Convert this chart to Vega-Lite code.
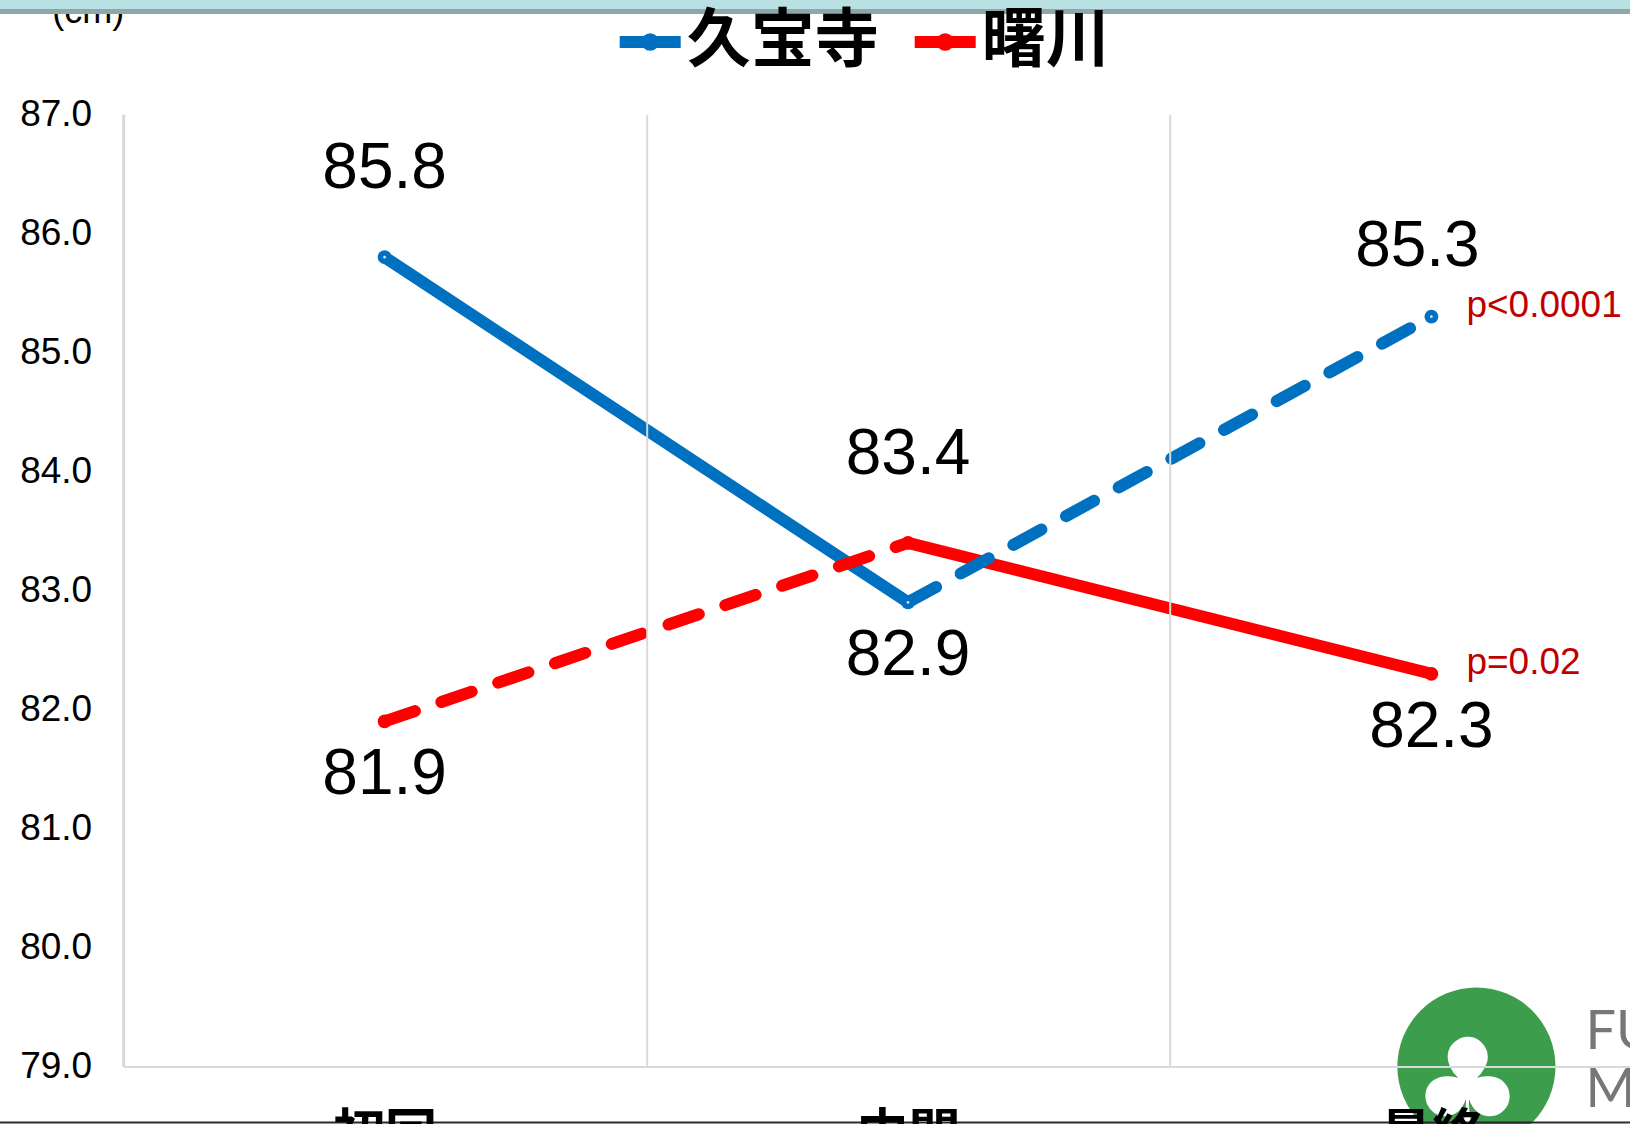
{
  "$schema": "https://vega.github.io/schema/vega-lite/v6.json",
  "autosize": {"type": "none"},
  "width": 1506.3,
  "height": 952.3,
  "padding": {"left": 123.7, "top": 114.3, "right": 0, "bottom": 57.4},
  "background": "white",
  "config": {"view": {"stroke": null}, "font": "Liberation Sans"},
  "datasets": {
    "waist": [
      {"地区": "久宝寺", "時期": "初回", "腹囲": 85.8},
      {"地区": "久宝寺", "時期": "中間", "腹囲": 82.9},
      {"地区": "久宝寺", "時期": "最終", "腹囲": 85.3, "p": "p<0.0001"},
      {"地区": "曙川", "時期": "初回", "腹囲": 81.9},
      {"地区": "曙川", "時期": "中間", "腹囲": 83.4},
      {"地区": "曙川", "時期": "最終", "腹囲": 82.3, "p": "p=0.02"}
    ],
    "one": [{}]
  },
  "layer": [
    {
      "data": {"name": "waist"},
      "transform": [{"filter": "(datum['地区'] === '久宝寺' && datum['時期'] !== '最終') || (datum['地区'] === '曙川' && datum['時期'] !== '初回')"}],
      "mark": {"type": "line", "strokeWidth": 12, "strokeCap": "round", "strokeJoin": "round"},
      "encoding": {
        "x": {
          "field": "時期", "type": "nominal",
          "scale": {"type": "point", "domain": ["初回", "中間", "最終"], "padding": 0.43895, "align": 0.5678},
          "axis": {
            "title": null, "grid": true, "gridColor": "#d9d9d9", "gridWidth": 2,
            "tickOffset": -261.7, "labelOffset": 261.7, "ticks": false,
            "domainColor": "#d9d9d9", "domainWidth": 2,
            "labelFont": "Noto Sans CJK JP", "labelFontSize": 52, "labelFontWeight": "bold",
            "labelColor": "black", "labelPadding": 44, "labelAngle": 0, "zindex": 1
          }
        },
        "y": {
          "field": "腹囲", "type": "quantitative",
          "scale": {"domain": [79, 87], "nice": false, "zero": false},
          "axis": {
            "title": "(cm)", "titleAngle": 0, "titleAlign": "left", "titleBaseline": "alphabetic",
            "titleX": -72, "titleY": -92, "titleFont": "Liberation Sans", "titleFontSize": 36,
            "titleFontWeight": "normal", "titleColor": "black",
            "values": [79, 80, 81, 82, 83, 84, 85, 86, 87], "format": ".1f",
            "grid": false, "ticks": false, "domainColor": "#d9d9d9", "domainWidth": 2,
            "labelFont": "Liberation Sans", "labelFontSize": 37, "labelColor": "black", "labelPadding": 32
          }
        },
        "color": {
          "field": "地区", "type": "nominal",
          "scale": {"domain": ["久宝寺", "曙川"], "range": ["#0070c0", "#ff0000"]},
          "legend": {
            "title": null, "orient": "none", "legendX": 490, "legendY": -109, "direction": "horizontal",
            "symbolType": "M-1,0L1,0M0.09,0A0.09,0.09,0,1,1,-0.09,0A0.09,0.09,0,1,1,0.09,0",
            "symbolSize": 3721, "symbolStrokeWidth": 12,
            "labelFont": "Noto Sans CJK JP", "labelFontSize": 64, "labelFontWeight": "bold",
            "labelColor": "black", "labelOffset": 0, "labelLimit": 0, "columnPadding": 12, "padding": 0
          }
        }
      }
    },
    {
      "data": {"name": "waist"},
      "transform": [{"filter": "(datum['地区'] === '久宝寺' && datum['時期'] !== '初回') || (datum['地区'] === '曙川' && datum['時期'] !== '最終')"}],
      "mark": {"type": "line", "strokeWidth": 12, "strokeCap": "round", "strokeDash": [32, 28]},
      "encoding": {
        "x": {"field": "時期", "type": "nominal"},
        "y": {"field": "腹囲", "type": "quantitative"},
        "color": {"field": "地区", "type": "nominal", "legend": null}
      }
    },
    {
      "data": {"name": "waist"},
      "mark": {"type": "point", "shape": "circle", "filled": true, "size": 190, "opacity": 1},
      "encoding": {
        "x": {"field": "時期", "type": "nominal"},
        "y": {"field": "腹囲", "type": "quantitative"},
        "color": {"field": "地区", "type": "nominal", "legend": null}
      }
    },
    {
      "data": {"name": "waist"},
      "transform": [{"filter": "datum['地区'] === '久宝寺'"}],
      "mark": {"type": "point", "shape": "circle", "filled": true, "size": 7, "opacity": 1, "color": "#d6e6f5"},
      "encoding": {
        "x": {"field": "時期", "type": "nominal"},
        "y": {"field": "腹囲", "type": "quantitative"}
      }
    },
    {
      "data": {"name": "waist"},
      "transform": [{"filter": "(datum['地区'] === '久宝寺' && datum['時期'] === '初回') || (datum['地区'] === '曙川' && datum['時期'] === '中間')"}],
      "mark": {"type": "text", "fontSize": 64, "font": "Liberation Sans", "color": "black", "baseline": "middle", "align": "center", "dy": -88},
      "encoding": {
        "x": {"field": "時期", "type": "nominal"},
        "y": {"field": "腹囲", "type": "quantitative"},
        "text": {"field": "腹囲", "type": "quantitative", "format": ".1f"}
      }
    },
    {
      "data": {"name": "waist"},
      "transform": [{"filter": "datum['地区'] === '久宝寺' && datum['時期'] === '最終'"}],
      "mark": {"type": "text", "fontSize": 64, "font": "Liberation Sans", "color": "black", "baseline": "middle", "align": "center", "dy": -70, "dx": -14},
      "encoding": {
        "x": {"field": "時期", "type": "nominal"},
        "y": {"field": "腹囲", "type": "quantitative"},
        "text": {"field": "腹囲", "type": "quantitative", "format": ".1f"}
      }
    },
    {
      "data": {"name": "waist"},
      "transform": [{"filter": "(datum['地区'] === '曙川' && datum['時期'] !== '中間') || (datum['地区'] === '久宝寺' && datum['時期'] === '中間')"}],
      "mark": {"type": "text", "fontSize": 64, "font": "Liberation Sans", "color": "black", "baseline": "middle", "align": "center", "dy": 54},
      "encoding": {
        "x": {"field": "時期", "type": "nominal"},
        "y": {"field": "腹囲", "type": "quantitative"},
        "text": {"field": "腹囲", "type": "quantitative", "format": ".1f"}
      }
    },
    {
      "data": {"name": "waist"},
      "transform": [{"filter": "datum.p"}],
      "mark": {"type": "text", "fontSize": 37, "font": "Liberation Sans", "color": "#c00000", "baseline": "middle", "align": "left", "dx": 35, "dy": -11},
      "encoding": {
        "x": {"field": "時期", "type": "nominal"},
        "y": {"field": "腹囲", "type": "quantitative"},
        "text": {"field": "p", "type": "nominal"}
      }
    },
    {
      "data": {"name": "one"},
      "mark": {"type": "point", "shape": "circle", "filled": true, "size": 25000, "color": "#3c9d4c", "opacity": 1, "xOffset": 45},
      "encoding": {
        "x": {"datum": "最終", "type": "nominal"},
        "y": {"datum": 79.0, "type": "quantitative"}
      }
    },
    {
      "data": {"name": "one"},
      "mark": {"type": "text", "text": "♣", "font": "DejaVu Sans", "fontSize": 125, "color": "white", "baseline": "middle", "align": "center", "xOffset": 36},
      "encoding": {
        "x": {"datum": "最終", "type": "nominal"},
        "y": {"datum": 78.8, "type": "quantitative"}
      }
    },
    {
      "data": {"name": "one"},
      "mark": {"type": "text", "text": "FU", "font": "Lato", "fontSize": 54, "color": "#777777", "baseline": "alphabetic", "align": "left", "xOffset": 154},
      "encoding": {
        "x": {"datum": "最終", "type": "nominal"},
        "y": {"datum": 79.15, "type": "quantitative"}
      }
    },
    {
      "data": {"name": "one"},
      "mark": {"type": "text", "text": "M", "font": "Lato", "fontSize": 54, "color": "#777777", "baseline": "alphabetic", "align": "left", "xOffset": 154},
      "encoding": {
        "x": {"datum": "最終", "type": "nominal"},
        "y": {"datum": 78.661, "type": "quantitative"}
      }
    },
    {
      "data": {"name": "one"},
      "mark": {"type": "rule", "color": "#b9e0e3", "strokeWidth": 9, "xOffset": -386, "x2Offset": 200},
      "encoding": {
        "x": {"datum": "初回", "type": "nominal"},
        "x2": {"datum": "最終"},
        "y": {"datum": 87.922, "type": "quantitative"}
      }
    },
    {
      "data": {"name": "one"},
      "mark": {"type": "rule", "color": "#8fa7a8", "strokeWidth": 5, "xOffset": -386, "x2Offset": 200},
      "encoding": {
        "x": {"datum": "初回", "type": "nominal"},
        "x2": {"datum": "最終"},
        "y": {"datum": 87.864, "type": "quantitative"}
      }
    },
    {
      "data": {"name": "one"},
      "mark": {"type": "rule", "color": "#2b2b2b", "strokeWidth": 2, "xOffset": -386, "x2Offset": 200},
      "encoding": {
        "x": {"datum": "初回", "type": "nominal"},
        "x2": {"datum": "最終"},
        "y": {"datum": 78.531, "type": "quantitative"}
      }
    }
  ]
}
